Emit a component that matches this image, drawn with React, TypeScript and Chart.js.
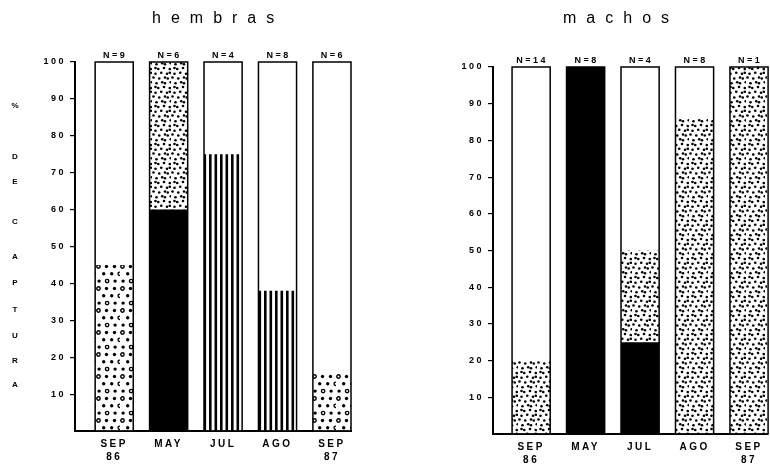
import { useEffect, useRef } from "react";
import Chart from "chart.js/auto";

// categories (x axis)
const months = [["SEP", "86"], ["MAY"], ["JUL"], ["AGO"], ["SEP", "87"]];

// hembras: % de captura per pattern, stacked bottom -> top
const hembrasN = [9, 6, 4, 8, 6];
const hembrasBlack = [0, 60, 0, 0, 0];
const hembrasStripes = [0, 0, 75, 38, 0];
const hembrasCircles = [45, 0, 0, 0, 16];
const hembrasDots = [0, 40, 0, 0, 0];
const hembrasWhite = [55, 0, 25, 62, 84];

// machos
const machosN = [14, 8, 4, 8, 1];
const machosBlack = [0, 100, 25, 0, 0];
const machosStripes = [0, 0, 0, 0, 0];
const machosCircles = [0, 0, 0, 0, 0];
const machosDots = [20, 0, 25, 86, 100];
const machosWhite = [80, 0, 50, 14, 0];

const yTitle = "% DE CAPTURA";
const yTitleTops = [102, 153, 178, 218, 253, 279, 306, 332, 357, 381];

const FONT = "'Liberation Sans', Arial, sans-serif";

function tile(w: number, h: number, draw: (g: CanvasRenderingContext2D) => void) {
  const c = document.createElement("canvas");
  c.width = w;
  c.height = h;
  const g = c.getContext("2d")!;
  g.fillStyle = "#fff";
  g.fillRect(0, 0, w, h);
  g.fillStyle = "#000";
  g.strokeStyle = "#000";
  draw(g);
  return c;
}

function makePatterns(ctx: CanvasRenderingContext2D) {
  const dots = tile(19, 19, (g) => {
    for (let r = 0; r < 4; r++) {
      for (let c = 0; c < 4; c++) {
        const jx = (r * 7 + c * 13) % 3;
        const jy = (r * 11 + c * 5) % 2;
        const x = (c * 4.75 + 1.5 + (r % 2) * 2 + jx) % 19;
        const y = r * 4.75 + 1.5 + jy;
        g.beginPath();
        g.arc(x, y, 1.3, 0, Math.PI * 2);
        g.fill();
      }
    }
  });
  const circles = tile(24, 22, (g) => {
    g.lineWidth = 1.4;
    for (let r = 0; r < 3; r++) {
      for (let c = 0; c < 3; c++) {
        const jx = ((r * 5 + c * 3) % 3) * 0.6;
        const x = (c * 8 + 2.5 + (r % 2) * 4 + jx) % 24;
        const y = r * 7.3 + 2.5;
        g.beginPath();
        g.arc(x, y, 1.7, 0, Math.PI * 2);
        if ((r + c) % 3 === 0) g.stroke();
        else g.fill();
      }
    }
  });
  const stripes = tile(11, 4, (g) => {
    g.fillRect(0, 0, 2.6, 4);
    g.fillRect(5.5, 0, 2.6, 4);
  });
  return {
    dots: ctx.createPattern(dots, "repeat")!,
    circles: ctx.createPattern(circles, "repeat")!,
    stripes: ctx.createPattern(stripes, "repeat")!,
  };
}

const framePlugin = {
  id: "frame",
  beforeDraw(chart: any) {
    chart.ctx.letterSpacing = "2.5px";
  },
  afterDatasetsDraw(chart: any, _args: any, opts: any) {
    const { ctx } = chart;
    const y = chart.scales.y;
    const meta = chart.getDatasetMeta(0);
    ctx.save();
    ctx.strokeStyle = "#000";
    ctx.lineWidth = 1.5;
    ctx.fillStyle = "#000";
    ctx.font = `bold 9px ${FONT}`;
    ctx.textAlign = "center";
    ctx.textBaseline = "bottom";
    meta.data.forEach((bar: any, i: number) => {
      const total = chart.data.datasets.reduce((s: number, d: any) => s + d.data[i].y, 0);
      const top = y.getPixelForValue(total);
      const base = y.getPixelForValue(0);
      const w = bar.width;
      ctx.strokeRect(bar.x - w / 2, top, w, base - top);
      ctx.fillText(`N=${opts.counts[i]}`, bar.x + 1, top - 2);
    });
    ctx.restore();
  },
};

interface PanelProps {
  counts: number[];
  black: number[];
  stripes: number[];
  circles: number[];
  dots: number[];
  white: number[];
  left: number;
  width: number;
  padTop: number;
  padRight: number;
  axisWidth: number;
  axisHeight: number;
  xMin: number;
  xMax: number;
}

function Panel(p: PanelProps) {
  const ref = useRef<HTMLCanvasElement>(null);
  useEffect(() => {
    const ctx = ref.current!.getContext("2d")!;
    const pat = makePatterns(ctx);
    const series = (vals: number[], bg: any) => ({
      data: vals.map((v, i) => ({ x: i, y: v })),
      backgroundColor: bg,
      borderWidth: 0,
      barPercentage: 0.7,
      categoryPercentage: 1,
    });
    const chart = new Chart(ctx, {
      type: "bar",
      data: {
        datasets: [
          series(p.black, "#000"),
          series(p.stripes, pat.stripes),
          series(p.circles, pat.circles),
          series(p.dots, pat.dots),
          series(p.white, "#fff"),
        ],
      },
      options: {
        animation: false,
        responsive: true,
        maintainAspectRatio: false,
        events: [],
        layout: { padding: { top: p.padTop, right: p.padRight, left: 0, bottom: 0 } },
        plugins: {
          legend: { display: false },
          tooltip: { enabled: false },
          frame: { counts: p.counts },
        } as any,
        scales: {
          x: {
            type: "linear",
            stacked: true,
            offset: false,
            min: p.xMin,
            max: p.xMax,
            grid: { display: false },
            border: { display: true, color: "#000", width: 2 },
            afterBuildTicks: (scale: any) => {
              scale.ticks = months.map((_, i) => ({ value: i }));
            },
            afterFit: (scale: any) => {
              scale.height = p.axisHeight;
            },
            ticks: {
              autoSkip: false,
              maxRotation: 0,
              padding: -2,
              color: "#000",
              font: { family: FONT, size: 10, weight: "bold", lineHeight: 1.35 },
              callback: (v: any) => months[v] ?? "",
            },
          },
          y: {
            stacked: true,
            min: 0,
            max: 100,
            grid: {
              display: true,
              drawOnChartArea: false,
              drawTicks: true,
              tickLength: 5,
              lineWidth: 1.2,
              color: (c: any) => (c.tick && c.tick.value === 0 ? "rgba(0,0,0,0)" : "#000"),
            },
            border: { display: true, color: "#000", width: 2 },
            afterFit: (scale: any) => {
              scale.width = p.axisWidth;
            },
            ticks: {
              stepSize: 10,
              padding: 4,
              color: "#000",
              font: { family: FONT, size: 9, weight: "bold" },
              callback: (v: any) => (v === 0 ? "" : String(v)),
            },
          },
        },
      },
      plugins: [framePlugin],
    });
    return () => {
      chart.destroy();
    };
  }, []);
  return (
    <div style={{ position: "absolute", left: p.left, top: 0, width: p.width, height: 466 }}>
      <canvas ref={ref}></canvas>
    </div>
  );
}

export default function App() {
  useEffect(() => {
    document.body.style.margin = "0";
  }, []);
  const titleStyle = {
    position: "absolute" as const,
    top: 10,
    fontFamily: FONT,
    fontSize: 16,
    lineHeight: "16px",
    letterSpacing: "10px",
    color: "#000",
    whiteSpace: "nowrap" as const,
  };
  const letters = yTitle.replace(/ /g, "").split("");
  return (
    <div style={{ position: "relative", width: 770, height: 466, overflow: "hidden", background: "#fff" }}>
      <Panel
        counts={hembrasN}
        black={hembrasBlack}
        stripes={hembrasStripes}
        circles={hembrasCircles}
        dots={hembrasDots}
        white={hembrasWhite}
        left={0}
        width={385}
        padTop={62}
        padRight={34}
        axisWidth={75}
        axisHeight={35}
        xMin={-0.72}
        xMax={4.35}
      />
      <Panel
        counts={machosN}
        black={machosBlack}
        stripes={machosStripes}
        circles={machosCircles}
        dots={machosDots}
        white={machosWhite}
        left={385}
        width={385}
        padTop={67}
        padRight={3}
        axisWidth={108}
        axisHeight={32}
        xMin={-0.7}
        xMax={4.33}
      />
      <div style={{ ...titleStyle, left: 152 }}>hembras</div>
      <div style={{ ...titleStyle, left: 563 }}>machos</div>
      {letters.map((ch, i) => (
        <div
          key={i}
          style={{
            position: "absolute",
            left: 9,
            width: 12,
            textAlign: "center",
            top: yTitleTops[i],
            fontFamily: FONT,
            fontWeight: "bold",
            fontSize: 8,
            lineHeight: "8px",
            color: "#000",
          }}
        >
          {ch}
        </div>
      ))}
    </div>
  );
}
